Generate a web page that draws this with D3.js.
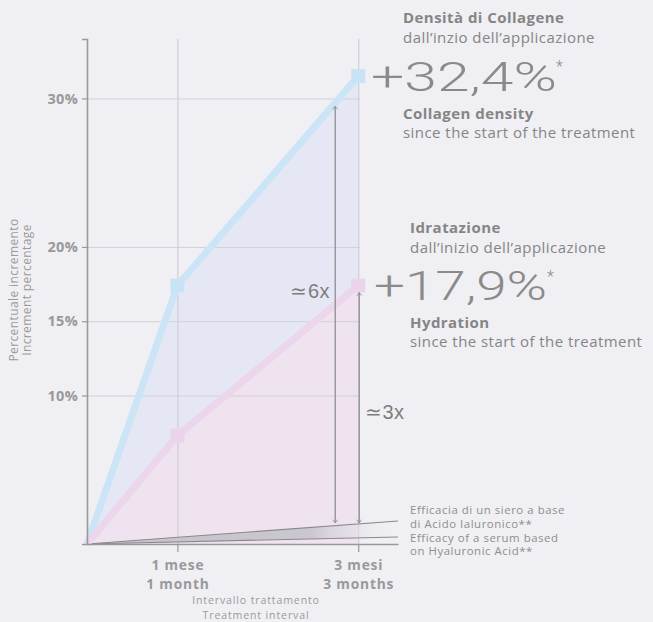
<!DOCTYPE html>
<html><head><meta charset="utf-8">
<script src="https://cdn.jsdelivr.net/npm/d3@7"></script>
<style>
html,body{margin:0;padding:0;background:#f0eff4;}
svg{display:block;font-family:"Open Sans",sans-serif;}
</style></head><body>
<svg id="c" width="653" height="622"></svg>
<script>
// ---- data ----
const months = [0, 1, 3];
const monthLabels = [["1 mese","1 month"],["3 mesi","3 months"]];
const tickMonths = [1, 3];
const collagen = [0, 17.4, 31.5];
const hydration = [0, 7.3, 17.4];
const serumMonths = [0, 3.44];
const serumHigh = [0, 1.55];
const serumLow = [0, 0.47];
const yTicks = [10, 15, 20, 30];
const collagenTitle = ["Densità di Collagene","dall’inzio dell’applicazione","+32,4%","Collagen density","since the start of the treatment"];
const hydrationTitle = ["Idratazione","dall’inizio dell’applicazione","+17,9%","Hydration","since the start of the treatment"];
const serumText = ["Efficacia di un siero a base","di Acido Ialuronico**","Efficacy of a serum based","on Hyaluronic Acid**"];
const ratios = ["≃6x","≃3x"];

const svg = d3.select("#c");
const x = d3.scaleLinear().domain([0, 3.44]).range([87, 398]);
const y = d3.scaleLinear().domain([0, 34]).range([544, 39]);
const grey = "#8e8e8e";

const defs = svg.append("defs");
const g1 = defs.append("linearGradient").attr("id","sg").attr("gradientUnits","userSpaceOnUse")
  .attr("x1", x(0)).attr("x2", x(3.44)).attr("y1",0).attr("y2",0);
g1.append("stop").attr("offset","0").attr("stop-color","#c6c2cc");
g1.append("stop").attr("offset","0.72").attr("stop-color","#cbc7d1");
g1.append("stop").attr("offset","1").attr("stop-color","#f0eff4").attr("stop-opacity",0);
const mk = defs.append("marker").attr("id","ah").attr("viewBox","-5 -5 10 10")
  .attr("refX",0).attr("refY",0).attr("markerWidth",8).attr("markerHeight",8)
  .attr("orient","auto-start-reverse").attr("markerUnits","userSpaceOnUse");
mk.append("path").attr("d","M-4,-3 L0,0 L-4,3").attr("fill","none").attr("stroke",grey).attr("stroke-width",1.1);

const cData = months.map((m,i)=>({m, v:collagen[i]}));
const hData = months.map((m,i)=>({m, v:hydration[i]}));

// areas
const area = d3.area().x(d=>x(d.m)).y0(y(0)).y1(d=>y(d.v));
svg.append("path").datum(cData).attr("d",area).attr("fill","#e5e8f4");
svg.append("path").datum(hData).attr("d",area).attr("fill","#eee3ef");

// gridlines
const gy = svg.append("g").attr("transform",`translate(${x(0)},0)`)
  .call(d3.axisLeft(y).tickValues(yTicks).tickSize(-(x(3)-x(0)+2)).tickFormat(""));
gy.select(".domain").remove();
gy.selectAll("line").attr("stroke","#d2d1d7").attr("stroke-width",1);
const gx = svg.append("g").attr("transform",`translate(0,${y(0)})`)
  .call(d3.axisBottom(x).tickValues(tickMonths).tickSize(-(y(0)-y(34))).tickFormat(""));
gx.select(".domain").remove();
gx.selectAll("line").attr("stroke","#cfced5").attr("stroke-width",1.2);

// serum wedge
const sHigh = serumMonths.map((m,i)=>({m, v:serumHigh[i]}));
const sLow = serumMonths.map((m,i)=>({m, v:serumLow[i]}));
const wedge = d3.area().x(d=>x(d.m)).y0((d,i)=>y(sLow[i].v)).y1(d=>y(d.v));
svg.append("path").datum(sHigh).attr("d",wedge).attr("fill","url(#sg)");
const line = d3.line().x(d=>x(d.m)).y(d=>y(d.v));
svg.append("path").datum(sHigh).attr("d",line).attr("stroke","#8a8a8a").attr("stroke-width",1.2).attr("fill","none");
svg.append("path").datum(sLow).attr("d",line).attr("stroke","#8a8a8a").attr("stroke-width",1.2).attr("fill","none");

// series lines
svg.append("path").datum(cData).attr("d",line).attr("stroke","#cce5f6").attr("stroke-width",7).attr("fill","none");
svg.append("path").datum(hData).attr("d",line).attr("stroke","#ebd6eb").attr("stroke-width",7).attr("fill","none");
const ms = 14;
svg.selectAll(".mc").data(cData.slice(1)).join("rect")
  .attr("x",d=>x(d.m)-ms/2).attr("y",d=>y(d.v)-ms/2).attr("width",ms).attr("height",ms).attr("fill","#c9e3f6");
svg.selectAll(".mh").data(hData.slice(1)).join("rect")
  .attr("x",d=>x(d.m)-ms/2).attr("y",d=>y(d.v)-ms/2).attr("width",ms).attr("height",ms).attr("fill","#e9d4ea");

// axes
const ax = svg.append("g").attr("transform",`translate(${x(0)},0)`)
  .call(d3.axisLeft(y).tickValues(yTicks).tickSize(5).tickPadding(4).tickFormat(d=>d+"%"));
ax.select(".domain").attr("stroke","#999").attr("stroke-width",1.6);
ax.selectAll("line").attr("stroke","#999").attr("stroke-width",1.2);
ax.selectAll("text").attr("fill","#999").attr("font-size",14.5).attr("font-weight",700)
  .attr("font-family","Open Sans").attr("letter-spacing",0.3);
const bx = svg.append("g").attr("transform",`translate(0,${y(0)})`)
  .call(d3.axisBottom(x).tickValues(tickMonths).tickSize(8).tickSizeOuter(0).tickFormat(""));
bx.select(".domain").attr("stroke","#999").attr("stroke-width",1.6);
bx.selectAll("line").attr("stroke","#999").attr("stroke-width",1.2);
bx.selectAll(".tick").each(function(d,i){
  const t = d3.select(this).append("text").attr("fill","#999").attr("font-size",13.8).attr("font-weight",700)
    .attr("text-anchor","middle").attr("letter-spacing",0.8).attr("font-family","Open Sans");
  t.append("tspan").attr("x",0).attr("y",26).text(monthLabels[i][0]);
  t.append("tspan").attr("x",0).attr("y",45).text(monthLabels[i][1]);
});

// axis titles
const xt = svg.append("text").attr("fill","#9a9a9a").attr("font-size",10.6).attr("text-anchor","middle")
  .attr("letter-spacing",0.85);
xt.append("tspan").attr("x",256).attr("y",604).text("Intervallo trattamento");
xt.append("tspan").attr("x",256).attr("y",618.5).text("Treatment interval");
const yt = svg.append("text").attr("fill","#9a9a9a").attr("font-size",12).attr("text-anchor","middle")
  .attr("letter-spacing",0.4).attr("transform","translate(18,290) rotate(-90)");
yt.append("tspan").attr("x",0).attr("y",0).text("Percentuale incremento");
yt.append("tspan").attr("x",0).attr("y",12.5).text("Increment percentage");

// arrows
const arrowTop = [collagen[2], hydration[2]];
const arrowX = [x(3)-23, x(3)+1];
const arrowBottom = y(serumHigh[1]*3/3.44);
arrowX.forEach((ax0,i)=>{
  svg.append("line").attr("x1",ax0).attr("x2",ax0)
    .attr("y1",y(arrowTop[i])+ (i===0?30:7)).attr("y2",arrowBottom - 1)
    .attr("stroke",grey).attr("stroke-width",1.3)
    .attr("marker-start","url(#ah)").attr("marker-end","url(#ah)");
});
svg.append("text").attr("x",330).attr("y",298).attr("text-anchor","end").attr("fill","#7d7d7d")
  .attr("font-size",20).attr("font-family","Liberation Sans").attr("letter-spacing",0.5).text(ratios[0]);
svg.append("text").attr("x",365).attr("y",419).attr("fill","#7d7d7d")
  .attr("font-size",20).attr("font-family","Liberation Sans").attr("letter-spacing",0.5).text(ratios[1]);

// right-side labels
function block(t, x0, yb, bigX, bigW, bigY, small){
  const c = "#858585";
  const common = s => s.attr("fill",c).attr("font-size",15).attr("letter-spacing",0.45);
  common(svg.append("text").attr("x",x0).attr("y",yb[0])).attr("font-weight",700).text(t[0]);
  common(svg.append("text").attr("x",x0).attr("y",yb[1])).text(t[1]);
  svg.append("text").attr("x",bigX).attr("y",bigY).attr("fill","#8a8a8a").attr("font-size",41)
    .attr("font-family","Roboto").attr("font-weight",300)
    .attr("textLength",bigW).attr("lengthAdjust","spacingAndGlyphs").text(t[2]);
  svg.append("text").attr("x",small[0]).attr("y",small[1]).attr("fill","#8a8a8a").attr("font-size",16)
    .attr("font-family","Roboto").attr("font-weight",300).text("*");
  common(svg.append("text").attr("x",x0).attr("y",yb[2])).attr("font-weight",700).text(t[3]);
  common(svg.append("text").attr("x",x0).attr("y",yb[3])).text(t[4]);
}
block(collagenTitle, 403, [23,43,119,138], 371, 186, 91, [556,72]);
block(hydrationTitle, 410, [233,253,328,347], 374, 173, 300, [547,282]);

const st = svg.append("text").attr("fill","#8e8e8e").attr("font-size",11.4).attr("letter-spacing",0.55);
serumText.forEach((s,i)=>st.append("tspan").attr("x",410).attr("y",[514,527.5,541.5,555][i]).text(s));
</script>
</body></html>
